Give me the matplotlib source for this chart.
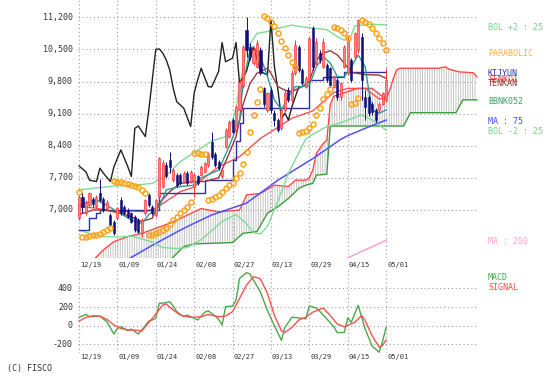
import matplotlib
matplotlib.use("Agg")
import matplotlib.pyplot as plt
from matplotlib.patches import Polygon
import numpy as np

# x is a trading-day index, 0 = 12/19, 88 = 05/01; the cloud runs 26 days ahead
dates = ["12/19", "01/09", "01/24", "02/08", "02/27", "03/13", "03/29", "04/15", "05/01"]
date_pos = [0, 11, 22, 33, 44, 55, 66, 77, 88]
price_ticks = [7000, 7700, 8400, 9100, 9800, 10500, 11200]
macd_ticks = [-200, 0, 200, 400]

opens = [6820, 7290, 6930, 7110, 7230, 7090, 7360, 7230, 7040, 6890,
         6740, 6820, 7220, 7070, 7010, 6930, 6850, 6780, 6490, 6930,
         7330, 7070, 6890, 7290, 7510, 7980, 8090, 7650, 7760, 7760,
         7620, 7800, 7620, 7510, 7730, 7760, 7830, 7980, 8490, 8230,
         8050, 7730, 8380, 8600, 8960, 8740, 9180, 9700, 10920, 10560,
         10200, 10120, 10490, 9650, 9180, 9620, 9110, 8960, 8780, 9180,
         9620, 9400, 9980, 10560, 10050, 9690, 9830, 10960, 10200, 10420,
         10120, 10160, 10090, 9690, 9830, 9470, 10120, 9980, 10270, 10340,
         10490, 10780, 9470, 9470, 9320, 9180, 9180, 9320, 9400]
highs = [7330, 7400, 7220, 7400, 7290, 7330, 7670, 7290, 7220, 6930,
         6780, 7070, 7290, 7110, 7040, 6960, 6890, 6820, 6820, 7250,
         7360, 7110, 7250, 8160, 8090, 8050, 8270, 7910, 7800, 7800,
         7840, 7840, 7870, 7800, 7760, 7980, 8050, 8270, 8710, 8270,
         8090, 7900, 8780, 8960, 9000, 9290, 9830, 10600, 11210, 10630,
         10560, 10700, 10560, 9690, 9580, 9690, 9180, 9000, 9250, 9620,
         9690, 10050, 10700, 10600, 10090, 9910, 10780, 11000, 10740, 10490,
         10740, 10200, 10120, 9940, 9870, 9800, 10600, 10760, 10310, 10890,
         11170, 10850, 9620, 9510, 9360, 9220, 9360, 9580, 10090]
lows = [6780, 6930, 6890, 7070, 7070, 7050, 7180, 6960, 7000, 6640,
        6450, 6780, 6890, 6890, 6820, 6710, 6520, 6490, 6420, 6890,
        7070, 6890, 6850, 7250, 7470, 7690, 7800, 7620, 7510, 7540,
        7580, 7540, 7580, 7290, 7540, 7730, 7800, 7940, 8120, 7940,
        7870, 7690, 8340, 8560, 8670, 8700, 9140, 9650, 10340, 10270,
        10160, 10090, 9940, 9250, 9140, 9110, 8820, 8710, 8740, 9140,
        9360, 9360, 9940, 10010, 9720, 9650, 9800, 10050, 10160, 10200,
        10090, 9800, 9690, 9650, 9400, 9400, 10090, 9940, 9800, 10310,
        10420, 9400, 8960, 9040, 9070, 8890, 9140, 9290, 9360]
closes = [7290, 7070, 7180, 7360, 7130, 7290, 7220, 7000, 7180, 6670,
          6490, 7040, 6930, 6930, 6850, 6740, 6560, 6530, 6780, 7220,
          7110, 6930, 7220, 8130, 8020, 7730, 7940, 7870, 7540, 7580,
          7800, 7580, 7830, 7760, 7580, 7940, 8020, 8230, 8160, 7980,
          7910, 7870, 8740, 8920, 8700, 9250, 9800, 10560, 10490, 10340,
          10490, 10630, 9980, 9320, 9540, 9180, 8960, 8740, 9180, 9540,
          9400, 9980, 10600, 10050, 9760, 9870, 10740, 10120, 10670, 10270,
          10670, 9830, 9720, 9910, 9470, 9760, 10560, 10700, 9830, 10850,
          11140, 9830, 9250, 9110, 9140, 8960, 9320, 9540, 9830]

sar = [7400,
       6420, 6420, 6430, 6450, 6450, 6480, 6530, 6560, 6610,
       7630, 7620, 7600, 7580, 7570, 7540, 7520, 7490, 7440, 7380,
       6450, 6460, 6490, 6510, 6560, 6610, 6690, 6780, 6850, 6930, 7000, 7070, 7180,
       8240, 8240, 8230, 8220,
       7220, 7250, 7290, 7330, 7400, 7470, 7540, 7590, 7690, 7800,
       8000, 8270, 8690, 9060, 9360, 9630,
       11220, 11180, 11100, 11010, 10860, 10690, 10520, 10380, 10230, 10120,
       8670, 8690, 8730, 8780, 8880, 9070, 9230, 9410, 9530, 9630,
       10980, 10960, 10920, 10850, 10740,
       9320, 9340, 9430,
       11140, 11100, 11050, 10960, 10850, 10740, 10630, 10490]

bol_up_d = [0, 5, 10, 16, 21, 25, 29, 33, 38, 42, 44, 45, 46, 48, 51, 54, 57, 61, 64, 71, 74, 76, 78, 79, 81, 84, 88]
bol_up_v = [7440, 7480, 7520, 7540, 7580, 7750, 8050, 8250, 8500, 8600, 8960, 9200, 9700, 10500, 10850, 10890,
            10960, 11030, 10990, 10930, 10780, 10700, 10800, 11010, 11030, 11050, 11030]
bol_dn_d = [0, 3, 7, 11, 15, 18, 21, 24, 28, 31, 35, 38, 41, 45, 48, 50, 52, 54, 57, 60, 62, 65, 67, 71, 75, 77, 81, 84, 88]
bol_dn_v = [6560, 6490, 6420, 6410, 6430, 6370, 6300, 6180, 6160, 6180, 6350, 6550, 6750, 6900, 6700, 6500,
            6480, 6640, 7200, 7800, 8100, 8550, 8650, 8820, 8900, 8960, 9070, 8960, 8740]

senko1_d = [0, 3, 5, 7, 10, 14, 18, 22, 26, 30, 33, 35, 40, 46, 47, 48, 52, 56, 60, 62, 65, 66, 67, 68, 70, 71,
            72, 73, 77, 80, 84, 87, 88, 89, 90, 91, 92, 103, 105, 106, 109, 113, 114]
senko1_v = [5600, 5800, 5980, 6130, 6310, 6420, 6490, 6600, 6710, 6850, 6960, 7030, 6960, 7000, 7150, 7330, 7360,
            7540, 7510, 7650, 7650, 7700, 7870, 8230, 8450, 8520, 9300, 9480, 9580, 9650, 9650, 9470, 9430, 9600,
            9850, 10050, 10090, 10090, 10120, 10070, 10010, 9990, 9900]
senko2_d = [0, 20, 26, 28, 30, 33, 44, 47, 51, 54, 57, 60, 63, 65, 67, 68, 71, 72, 93, 95, 108, 110, 114]
senko2_v = [5500, 5700, 5900, 6050, 6200, 6260, 6290, 6490, 6530, 6930, 7070, 7250, 7470, 7540, 7580, 7760,
            7780, 8830, 8830, 9120, 9120, 9400, 9400]

kijun_d = [0, 3, 5, 6, 23, 36, 44, 45, 46, 47, 66, 70, 76, 88]
kijun_v = [6560, 6820, 6930, 7000, 7360, 7650, 8100, 8500, 8900, 9230, 9830, 9900, 10010, 10010]
tenkan_d = [0, 4, 8, 12, 15, 18, 21, 23, 26, 29, 33, 36, 40, 43, 45, 47, 49, 51, 54, 55, 57, 59, 61, 64, 66,
            68, 70, 72, 74, 76, 78, 82, 86, 88]
tenkan_v = [6900, 7000, 7000, 6930, 6850, 6750, 6820, 7150, 7400, 7580, 7620, 7620, 7700, 8230, 8600, 9300,
            9760, 9980, 10090, 9980, 9690, 9610, 9580, 9690, 9800, 10270, 10420, 10470, 10380, 10200, 10000,
            9950, 9940, 9870]
chikou_d = [0, 2, 3, 5, 6, 7, 9, 10, 12, 14, 15, 16, 17, 19, 20, 22, 23, 24, 25, 26, 27, 28, 30, 32, 33, 34,
            35, 37, 38, 40, 41, 42, 44, 45, 46, 48, 49, 50, 52, 54, 55, 56, 57, 58, 59, 60, 61, 62, 63]
chikou_v = [7960, 7830, 7650, 7620, 7910, 7800, 7620, 7940, 8310, 7940, 7730, 8780, 8830, 8600, 9180, 10500,
            10510, 10420, 10270, 10050, 9650, 9360, 9220, 8820, 9550, 9830, 10090, 9690, 9680, 10020, 10650,
            10230, 10310, 10650, 9760, 10020, 10310, 10560, 10020, 9940, 11140, 10120, 9620, 9000, 9110, 8960,
            9250, 9470, 9690]
teal_d = [0, 2, 5, 8, 11, 15, 18, 20, 23, 25, 29, 33, 35, 40, 43, 46, 47, 49, 50, 52, 54, 56, 58, 60, 62, 64,
          66, 68, 70, 72, 74, 76, 78, 80, 82, 83, 84, 86, 88]
teal_v = [7100, 7150, 7220, 7100, 6960, 6780, 6710, 6900, 7070, 7440, 7510, 7540, 7700, 7870, 8380, 8960, 9760,
          10490, 10560, 10340, 9910, 9400, 9180, 9470, 9690, 9690, 9720, 10120, 10340, 10200, 9910, 9900, 10120,
          10380, 10120, 9620, 9180, 9110, 9180]
red_ma_d = [0, 5, 10, 15, 19, 22, 27, 29, 33, 35, 40, 46, 52, 58, 61, 67, 73, 77, 82, 86, 88]
red_ma_v = [7070, 7040, 6960, 6980, 6960, 7040, 7290, 7400, 7500, 7650, 7940, 8160, 8560, 8850, 9000, 9160,
            9560, 9650, 9650, 9420, 9450]
ma75_d = [13, 21, 29, 33, 38, 48, 57, 67, 75, 77, 82, 88]
ma75_v = [5880, 6230, 6560, 6710, 6890, 7150, 7650, 8120, 8540, 8620, 8780, 8960]
ma200_d = [76, 88]
ma200_v = [5920, 6340]

macd_d = [0, 2, 3, 6, 8, 10, 11, 12, 14, 15, 17, 18, 20, 21, 22, 23, 25, 26, 27, 28, 30, 31, 34, 36, 37, 39,
          40, 41, 42, 44, 45, 46, 48, 49, 50, 52, 54, 56, 58, 59, 61, 63, 65, 66, 68, 69, 71, 73, 74, 76, 77,
          78, 80, 82, 84, 86, 87, 88]
macd_v = [89, 121, 96, 100, 43, -89, -29, -10, -53, -36, -89, -46, 50, 61, 78, 239, 246, 257, 210, 150, 96,
          114, 61, 143, 160, 103, 68, 7, 203, 210, 274, 506, 567, 553, 488, 360, 160, 0, -156, -18, 91, 84, 73,
          211, 189, 153, 73, -11, -73, -73, 84, 36, 218, -36, -218, -284, -164, -18]
signal_d = [0, 2, 4, 6, 8, 10, 12, 14, 16, 18, 19, 21, 24, 25, 27, 29, 32, 35, 37, 40, 42, 44, 46, 48, 50, 51,
            52, 54, 56, 58, 59, 61, 63, 65, 67, 70, 72, 74, 76, 79, 81, 82, 84, 86, 87, 88]
signal_v = [50, 89, 107, 103, 68, 7, -29, -46, -46, -57, -11, 78, 221, 232, 168, 114, 89, 96, 121, 96, 103,
            150, 292, 435, 524, 515, 500, 345, 109, -55, -73, -18, 62, 91, 145, 189, 109, 18, -11, 36, 109, 55,
            -109, -229, -211, -153]

# labels on the right: text, pixel y, colour (the ichimoku names overprint each other in the original)
legend_items = [("BOL +2 : 25", 27, "#6fd389"), ("PARABOLIC", 53, "#ffb340"),
                ("KIJYUN", 74, "#3535a8"), ("SENKO1", 79, "#ff3030"), ("TENKAN", 84, "#8c3030"),
                ("BBNK052", 102, "#3f9a66"), ("MA : 75", 121, "#4848ff"), ("BOL -2 : 25", 131, "#6fd389"),
                ("MA : 200", 241, "#ff9fd0"), ("MACD", 277, "#3fa83f"), ("SIGNAL", 288, "#ff4848")]

# ---- layout in pixels ----
W, H = 549, 379
X0, PPD = 79, 3.49   # pixel of day 0, pixels per day
plt.rcParams["font.family"] = ["DejaVu Sans Mono"]
plt.rcParams["hatch.linewidth"] = 0.6

fig = plt.figure(figsize=(W / 100, H / 100), dpi=100)
fig.patch.set_facecolor("white")


def px_axes(x0, y0, x1, y1):
    a = fig.add_axes([x0 / W, 1 - y1 / H, (x1 - x0) / W, (y1 - y0) / H])
    a.set_xlim((x0 - X0) / PPD, (x1 - X0) / PPD)
    a.axis("off")
    return a


ax = px_axes(70, 0, 480, 258)
ax.set_ylim(5953, 11577)
mx = px_axes(70, 270, 480, 353)
mx.set_ylim(-292, 596)

grid_kw = dict(colors="#9a9a9a", linewidth=0.8, linestyles=(0, (1, 2.5)), zorder=0)
x_end = (478 - X0) / PPD
for a, ticks in ((ax, price_ticks), (mx, macd_ticks)):
    lo, hi = a.get_ylim()
    a.hlines(ticks, -0.3, x_end, **grid_kw)
    a.vlines(date_pos, lo, hi, **grid_kw)

# ichimoku cloud
cloud = list(zip(senko1_d, senko1_v)) + list(zip(senko2_d, senko2_v))[::-1]
ax.add_patch(Polygon(cloud, closed=True, facecolor="none", edgecolor="#bcbcbc",
                     linewidth=0, hatch="|" * 7, zorder=1))

ax.plot(senko2_d, senko2_v, color="#3c9a3c", lw=1, zorder=2)
ax.plot(senko1_d, senko1_v, color="#ff4a4a", lw=1, zorder=2)
ax.plot(ma75_d, ma75_v, color="#5050ff", lw=1.1, zorder=2)
ax.plot(ma200_d, ma200_v, color="#ff9fd0", lw=1.1, zorder=2)
ax.plot(bol_up_d, bol_up_v, color="#7fdc95", lw=1, zorder=2)
ax.plot(bol_dn_d, bol_dn_v, color="#7fdc95", lw=1, zorder=2)
ax.plot(red_ma_d, red_ma_v, color="#ff5050", lw=1, zorder=2)
ax.plot(chikou_d, chikou_v, color="#222222", lw=1, zorder=2)
ax.plot(kijun_d, kijun_v, color="#3030a0", lw=1, drawstyle="steps-post", zorder=2)
ax.plot(tenkan_d, tenkan_v, color="#9a3838", lw=1, zorder=2)
ax.plot(teal_d, teal_v, color="#2f9a9a", lw=1, zorder=2)

# candles
o, hgh, low, c = map(np.array, (opens, highs, lows, closes))
days = np.arange(len(c))
up = c >= o
ax.vlines(days, low, hgh, colors=np.where(up, "#ff3030", "#10107a"), linewidth=0.7, zorder=3)
ax.bar(days, np.maximum(np.abs(c - o), 20), bottom=np.minimum(o, c), width=0.6,
       color=np.where(up, "#ff8080", "#10107a"), edgecolor=np.where(up, "#ff2020", "#10107a"),
       linewidth=0.4, zorder=3)

ax.plot(np.arange(len(sar)), sar, linestyle="none", marker="o", markersize=3.6,
        markerfacecolor="none", markeredgecolor="#ffa41c", markeredgewidth=1.1, zorder=4)

# MACD panel
mx.plot(macd_d, macd_v, color="#4aa84a", lw=1, zorder=2)
mx.plot(signal_d, signal_v, color="#ff5050", lw=1, zorder=2)

# text
tc = "#333333"
for v in price_ticks:
    ax.text(-1.72, v, f"{v:,}", ha="right", va="center", fontsize=6, color=tc)
for v in macd_ticks:
    mx.text(-1.72, v, f"{v}", ha="right", va="center", fontsize=6, color=tc)
for d, lab in zip(date_pos, dates):
    xf = (X0 + PPD * d + 1) / W
    fig.text(xf, 1 - 265 / H, lab, ha="left", va="center", fontsize=5, color=tc)
    fig.text(xf, 1 - 357 / H, lab, ha="left", va="center", fontsize=5, color=tc)
for lab, ypx, col in legend_items:
    fig.text(488 / W, 1 - ypx / H, lab, ha="left", va="center", fontsize=6, color=col)
fig.text(7 / W, 1 - 369 / H, "(C) FISCO", ha="left", va="center", fontsize=6, color=tc)

fig.savefig("out.png", dpi=100)
